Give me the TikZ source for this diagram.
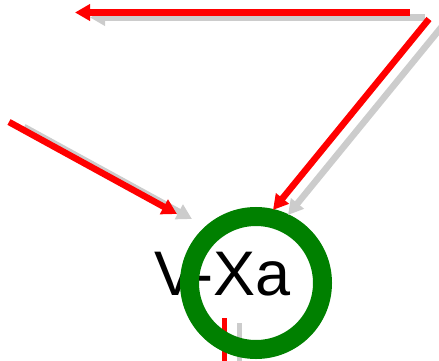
\documentclass[tikz,border=0pt]{standalone}
\usepackage{fontspec}
\setmainfont{Liberation Sans}
\usetikzlibrary{arrows.meta}
\definecolor{ringgreen}{RGB}{0,128,0}
\definecolor{arrowred}{RGB}{255,0,0}
\definecolor{shadowgray}{RGB}{204,204,204}
\tikzset{
  redarrow/.style={draw=arrowred, line width=6.5pt, -{Triangle[length=15pt,width=16pt]}},
  shadowarrow/.style={draw=shadowgray, line width=6.5pt, -{Triangle[length=15pt,width=16pt]}, transform canvas={shift={(15,5)}}},
  redline/.style={draw=arrowred, line width=5pt},
  shadowline/.style={draw=shadowgray, line width=5pt, transform canvas={shift={(15,5)}}},
}
\begin{document}
\begin{tikzpicture}[x=1pt,y=-1pt]
\useasboundingbox (0,0) rectangle (439,361);
\coordinate (ta) at (410,12.5);
\coordinate (tb) at (75,12.5);
\coordinate (da) at (429,19);
\coordinate (db) at (273,210);
\coordinate (la) at (9,122);
\coordinate (lb) at (177,214);
\coordinate (va) at (224,318);
\coordinate (vb) at (224,361);
\node[anchor=base west, inner sep=0pt, font=\fontsize{63}{63}\selectfont] (lbl) at (154,295) {V-Xa};
\draw[shadowline] (va) -- (vb);
\draw[redline] (va) -- (vb);
\node[circle, draw=ringgreen, line width=19pt, minimum size=133pt, inner sep=0pt] (ring) at (256,283) {};
\draw[shadowarrow] (ta) -- (tb);
\draw[shadowarrow] (da) -- (db);
\draw[shadowarrow] (la) -- (lb);
\draw[redarrow] (ta) -- (tb);
\draw[redarrow] (da) -- (db);
\draw[redarrow] (la) -- (lb);
\end{tikzpicture}
\end{document}
